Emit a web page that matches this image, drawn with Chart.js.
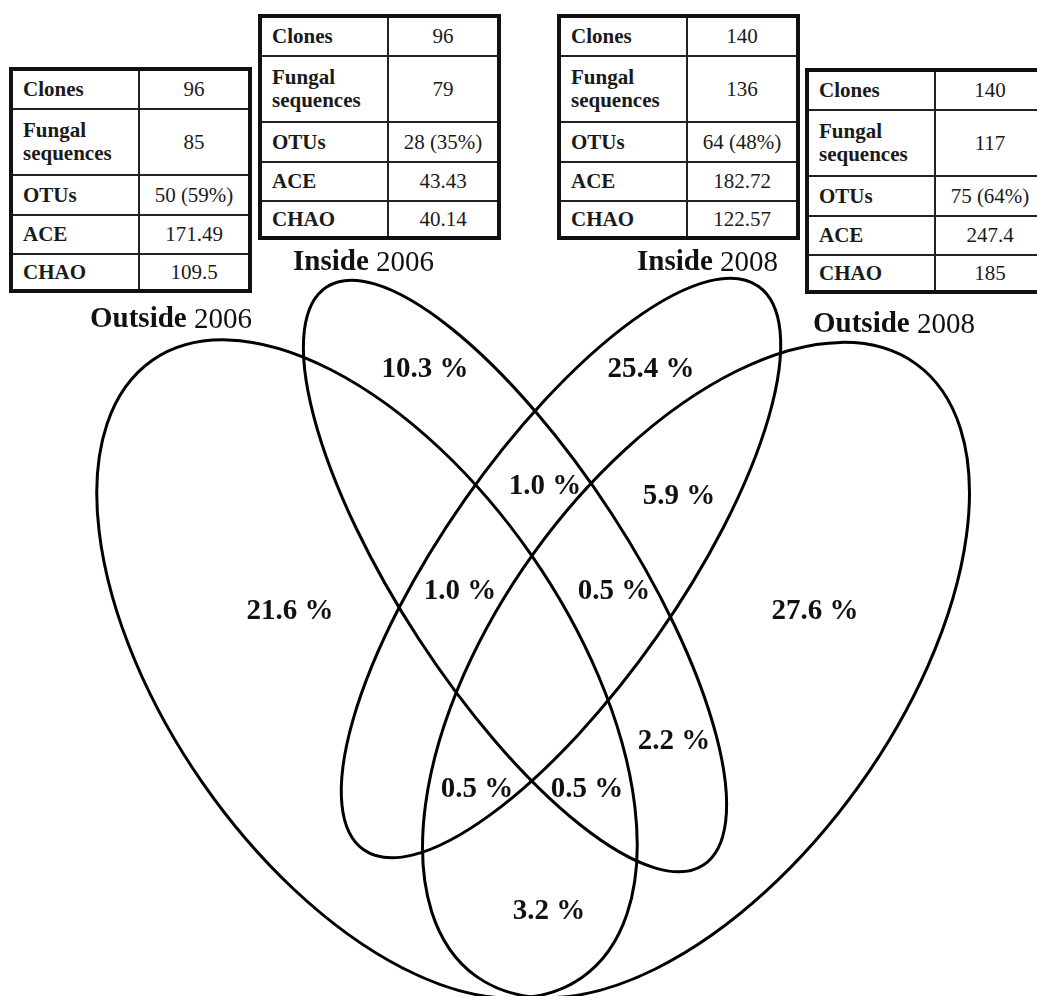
<!DOCTYPE html>
<html>
<head>
<meta charset="utf-8">
<script src="https://cdn.jsdelivr.net/npm/chart.js@4/dist/chart.umd.min.js"></script>
<style>
  body { margin: 0; background: #fff; }
  #wrap { position: relative; width: 1037px; height: 996px; overflow: hidden; }
  #wrap canvas { position: absolute; left: 0; top: 0; }
  table.stats {
    position: absolute;
    border-collapse: collapse;
    border: 4px solid #111;
    font-family: "Liberation Serif", "Times New Roman", serif;
    font-size: 21px;
    color: #1a1a1a;
    background: #fff;
    table-layout: fixed;
  }
  table.stats td { border: 2px solid #222; padding: 0; line-height: 23px; }
  table.stats td.name { font-weight: bold; text-align: left; padding-left: 10px; }
  table.stats td.val { text-align: center; }
</style>
</head>
<body>
<div id="wrap">
  <canvas id="venn"></canvas>
</div>
<script>
// set names and their summary tables
const sets = ["Outside 2006", "Inside 2006", "Inside 2008", "Outside 2008"];
const statNames = ["Clones", "Fungal sequences", "OTUs", "ACE", "CHAO"];
const outside2006Stats = ["96", "85", "50 (59%)", "171.49", "109.5"];
const inside2006Stats = ["96", "79", "28 (35%)", "43.43", "40.14"];
const inside2008Stats = ["140", "136", "64 (48%)", "182.72", "122.57"];
const outside2008Stats = ["140", "117", "75 (64%)", "247.4", "185"];

// share of OTUs in each region of the diagram
const regionNames = [
  "I06 only", "I08 only", "I06+I08", "I08+O08",
  "O06 only", "O06+I06+I08", "I06+I08+O08", "O08 only",
  "I06+O08", "O06+I08", "I06+O08+O06", "O06+O08"
];
const regionShares = [10.3, 25.4, 1.0, 5.9, 21.6, 1.0, 0.5, 27.6, 2.2, 0.5, 0.5, 3.2];

// layout (page pixels)
const regionLabelAt = [
  [425, 370], [651, 370], [545, 487], [679, 497],
  [290, 612], [460, 592], [614, 592], [815, 612],
  [674, 742], [477, 790], [587, 790], [549, 912]
];
const setLabelAt = [[90, 320], [293, 263], [637, 263], [813, 325]];
// ellipse: centre x, centre y, half length, half width, tilt in degrees
const setShapes = [
  [367, 669, 376, 200, 55.2],
  [515, 576, 345, 115, 56.9],
  [561, 568, 344, 118, -55],
  [696, 670, 377, 200, -54.3]
];
const tableBoxes = [[9, 67], [258, 14], [557, 14], [805, 68]];
const rowHeights = [40, 66, 40, 39, 37];

const FONT = '"Liberation Serif", "Times New Roman", serif';

function makeTable(values, box) {
  const t = document.createElement("table");
  t.className = "stats";
  t.style.left = box[0] + "px";
  t.style.top = box[1] + "px";
  t.style.width = "243px";
  let html = '<colgroup><col style="width:128px"><col></colgroup>';
  statNames.forEach((n, i) => {
    html += '<tr style="height:' + rowHeights[i] + 'px"><td class="name">' +
      n + '</td><td class="val">' + values[i] + "</td></tr>";
  });
  t.innerHTML = html;
  document.getElementById("wrap").appendChild(t);
}

[outside2006Stats, inside2006Stats, inside2008Stats, outside2008Stats]
  .forEach((v, i) => makeTable(v, tableBoxes[i]));

const vennPlugin = {
  id: "venn",
  beforeDatasetsDraw(chart) {
    const { ctx, scales: { x, y } } = chart;
    ctx.save();
    ctx.strokeStyle = "#000";
    ctx.lineWidth = 3;
    setShapes.forEach((s) => {
      const cx = x.getPixelForValue(s[0]);
      const cy = y.getPixelForValue(s[1]);
      const rx = Math.abs(x.getPixelForValue(s[0] + s[2]) - cx);
      const ry = Math.abs(x.getPixelForValue(s[0] + s[3]) - cx);
      ctx.beginPath();
      ctx.ellipse(cx, cy, rx, ry, (s[4] * Math.PI) / 180, 0, Math.PI * 2);
      ctx.stroke();
    });
    // set names: first word bold, year regular
    ctx.fillStyle = "#111";
    ctx.textBaseline = "middle";
    ctx.textAlign = "left";
    sets.forEach((name, i) => {
      const parts = name.split(" ");
      let px = x.getPixelForValue(setLabelAt[i][0]);
      const py = y.getPixelForValue(setLabelAt[i][1]);
      ctx.font = "bold 29px " + FONT;
      ctx.fillText(parts[0] + " ", px, py);
      px += ctx.measureText(parts[0] + " ").width;
      ctx.font = "29px " + FONT;
      ctx.fillText(parts[1], px, py);
    });
    ctx.restore();
  },
  afterDatasetsDraw(chart) {
    const { ctx } = chart;
    const meta = chart.getDatasetMeta(0);
    ctx.save();
    ctx.fillStyle = "#111";
    ctx.font = "bold 29px " + FONT;
    ctx.textAlign = "center";
    ctx.textBaseline = "middle";
    meta.data.forEach((pt, i) => {
      ctx.fillText(regionShares[i].toFixed(1) + " %", pt.x, pt.y);
    });
    ctx.restore();
  }
};

new Chart(document.getElementById("venn"), {
  type: "scatter",
  data: {
    labels: regionNames,
    datasets: [{
      label: "Shared OTUs (%)",
      data: regionLabelAt.map((p) => ({ x: p[0], y: p[1] })),
      pointRadius: 0,
      pointHoverRadius: 0
    }]
  },
  options: {
    responsive: true,
    maintainAspectRatio: false,
    animation: false,
    layout: { padding: 0 },
    plugins: {
      legend: { display: false },
      tooltip: { enabled: false }
    },
    scales: {
      x: { type: "linear", min: 0, max: 1037, display: false },
      y: { type: "linear", min: 0, max: 996, reverse: true, display: false }
    }
  },
  plugins: [vennPlugin]
});
</script>
</body>
</html>
